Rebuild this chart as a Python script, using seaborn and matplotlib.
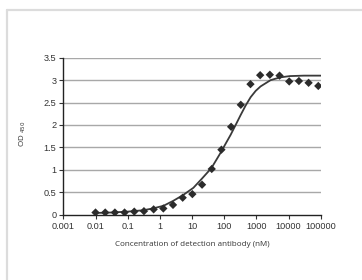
import numpy as np
import pandas as pd
import seaborn as sns
import matplotlib.pyplot as plt
from matplotlib.lines import Line2D
from matplotlib.ticker import FixedLocator, NullLocator

# measured points (dilution series, nM)
conc = [0.01, 0.02, 0.04, 0.08, 0.16, 0.32, 0.64, 1.28, 2.56, 5.12, 10.24, 20.48,
        40.96, 81.92, 163.84, 327.68, 655.36, 1310.72, 2621.44, 5242.88,
        10485.76, 20971.52, 41943.04, 83886.08]
od = [0.05, 0.05, 0.05, 0.05, 0.07, 0.08, 0.12, 0.14, 0.22, 0.38, 0.46, 0.67,
      1.02, 1.45, 1.96, 2.45, 2.91, 3.11, 3.12, 3.10, 2.97, 2.98, 2.94, 2.87]

# fitted curve
fit_conc = [0.01, 0.03, 0.1, 0.3, 0.6, 1.3, 2.6, 5.3, 11, 20, 40, 77, 110, 158,
            230, 323, 460, 663, 950, 1350, 2770, 5400, 11000, 30000, 100000]
fit_od = [0.04, 0.05, 0.07, 0.10, 0.14, 0.20, 0.31, 0.44, 0.60, 0.80, 1.04, 1.38,
          1.58, 1.78, 2.01, 2.22, 2.43, 2.62, 2.76, 2.86, 3.00, 3.06, 3.09, 3.10,
          3.10]

x_ticks = [0.001, 0.01, 0.1, 1, 10, 100, 1000, 10000, 100000]
x_labels = ["0.001", "0.01", "0.1", "1", "10", "100", "1000", "10000", "100000"]
y_ticks = [0, 0.5, 1, 1.5, 2, 2.5, 3, 3.5]
y_labels = ["0", "0.5", "1", "1.5", "2", "2.5", "3", "3.5"]

points = pd.DataFrame({"conc": conc, "od": od})
curve = pd.DataFrame({"conc": fit_conc, "od": fit_od})

sns.set_style("white")
plt.rcParams["font.family"] = ["Liberation Sans", "DejaVu Sans"]

fig = plt.figure(figsize=(3.62, 2.80), dpi=100)
ax = fig.add_axes([0.175, 0.233, 0.711, 0.561])
ax.set_xscale("log")

# light frame around the picture
fig.add_artist(Line2D([7/362, 7/362], [0, 1 - 10/280], color="#dcdcdc", lw=1.6))
fig.add_artist(Line2D([7/362, 1], [1 - 10/280, 1 - 10/280], color="#dcdcdc", lw=1.6))

ax.set_xlim(0.001, 100000)
ax.set_ylim(0, 3.5)
for yv in y_ticks[1:]:
    ax.axhline(yv, color="#a8a8a8", lw=1.0, zorder=0)

sns.lineplot(data=curve, x="conc", y="od", ax=ax, color="#3a3a3a", lw=1.3,
             zorder=2, legend=False)
sns.scatterplot(data=points, x="conc", y="od", ax=ax, marker="D", s=18,
                color="#2b2b2b", edgecolor="none", zorder=3, legend=False)

ax.xaxis.set_major_locator(FixedLocator(x_ticks))
ax.xaxis.set_minor_locator(NullLocator())
ax.set_xticklabels(x_labels)
ax.set_yticks(y_ticks)
ax.set_yticklabels(y_labels)
ax.tick_params(axis="both", labelsize=6.6, colors="#333333", length=3, width=0.8,
               direction="out", pad=2)
ax.tick_params(axis="x", bottom=True)
ax.tick_params(axis="y", left=True)

for side in ["top", "right"]:
    ax.spines[side].set_visible(False)
for side in ["left", "bottom"]:
    ax.spines[side].set_color("#222222")
    ax.spines[side].set_linewidth(1.0)

ax.set_xlabel("Concentration of detection antibody (nM)", fontsize=5.8,
              family=["Open Sans", "DejaVu Sans"], color="#333333", va="center")
ax.xaxis.set_label_coords(0.5, -0.187)
ax.set_ylabel("OD $_{450}$", fontsize=5.8, family=["Open Sans", "DejaVu Sans"],
              color="#333333", va="center")
ax.yaxis.set_label_coords(-0.158, 0.514)

fig.savefig("out.png", dpi=100)
